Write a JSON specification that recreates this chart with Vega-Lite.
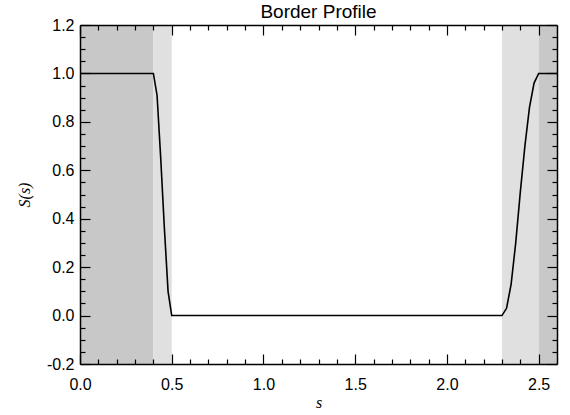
{
  "$schema": "https://vega.github.io/schema/vega-lite/v6.json",
  "width": 477,
  "height": 339,
  "autosize": "none",
  "padding": {"left": 80, "top": 25, "right": 13, "bottom": 51},
  "background": "white",
  "title": {"text": "Border Profile", "font": "Liberation Sans", "fontSize": 19, "fontWeight": "normal", "color": "black", "offset": -5},
  "config": {
    "view": {"stroke": null},
    "axis": {
      "grid": false,
      "labelFlush": false,
      "labelOverlap": false,
      "labelFont": "Liberation Sans",
      "labelFontSize": 16,
      "labelColor": "black",
      "titleFont": "Liberation Serif",
      "titleFontStyle": "italic",
      "titleFontWeight": "normal",
      "titleFontSize": 16,
      "titleColor": "black"
    }
  },
  "datasets": {
    "regions": [
      {"start": 0.0, "end": 0.4, "zone": "outer"},
      {"start": 0.4, "end": 0.5, "zone": "inner"},
      {"start": 2.3, "end": 2.5, "zone": "inner"},
      {"start": 2.5, "end": 2.6, "zone": "outer"}
    ],
    "profile": [
      {"s": 0.0, "S": 1.0},
      {"s": 0.4, "S": 1.0},
      {"s": 0.42, "S": 0.91},
      {"s": 0.44, "S": 0.65},
      {"s": 0.46, "S": 0.36},
      {"s": 0.48, "S": 0.1},
      {"s": 0.5, "S": 0.0},
      {"s": 2.3, "S": 0.0},
      {"s": 2.325, "S": 0.03},
      {"s": 2.35, "S": 0.13},
      {"s": 2.375, "S": 0.3},
      {"s": 2.4, "S": 0.51},
      {"s": 2.425, "S": 0.7},
      {"s": 2.45, "S": 0.86},
      {"s": 2.475, "S": 0.96},
      {"s": 2.5, "S": 1.0},
      {"s": 2.6, "S": 1.0}
    ]
  },
  "layer": [
    {
      "data": {"name": "regions"},
      "mark": {"type": "rect"},
      "encoding": {
        "x": {"field": "start", "type": "quantitative", "scale": {"domain": [0, 2.6], "nice": false, "zero": false},
          "axis": {"orient": "bottom", "zindex": 2, "values": [0, 0.5, 1, 1.5, 2, 2.5], "format": ".1f", "domain": true, "domainColor": "black", "domainWidth": 1.5, "ticks": true, "tickColor": "black", "tickWidth": 1.2, "tickSize": -10, "labelPadding": 22, "title": "s", "titlePadding": 2}},
        "x2": {"field": "end"},
        "color": {"field": "zone", "type": "nominal", "scale": {"domain": ["outer", "inner"], "range": ["#c8c8c8", "#e0e0e0"]}, "legend": null}
      }
    },
    {
      "data": {"name": "profile"},
      "mark": {"type": "line", "color": "black", "strokeWidth": 1.6},
      "encoding": {
        "x": {"field": "s", "type": "quantitative", "scale": {"domain": [0, 2.6], "nice": false, "zero": false},
          "axis": {"orient": "bottom", "zindex": 2, "values": [0.1, 0.2, 0.3, 0.4, 0.6, 0.7, 0.8, 0.9, 1.1, 1.2, 1.3, 1.4, 1.6, 1.7, 1.8, 1.9, 2.1, 2.2, 2.3, 2.4], "ticks": true, "tickColor": "black", "tickWidth": 1.2, "tickSize": -5, "labels": false, "domain": false, "title": null}},
        "y": {"field": "S", "type": "quantitative", "scale": {"domain": [-0.2, 1.2], "nice": false, "zero": false},
          "axis": {"orient": "left", "zindex": 2, "values": [-0.2, 0, 0.2, 0.4, 0.6, 0.8, 1.0, 1.2], "labelExpr": "replace(format(datum.value, '.1f'), '\u2212', '-')", "domain": true, "domainColor": "black", "domainWidth": 1.5, "ticks": true, "tickColor": "black", "tickWidth": 1.2, "tickSize": -10, "labelPadding": 16, "title": "S(s)", "titlePadding": 14}}
      }
    },
    {
      "data": {"name": "profile"},
      "mark": {"type": "line", "color": "black", "opacity": 0},
      "encoding": {
        "x": {"field": "s", "type": "quantitative", "scale": {"domain": [0, 2.6], "nice": false, "zero": false},
          "axis": {"orient": "top", "zindex": 2, "values": [0, 0.5, 1, 1.5, 2, 2.5], "domain": true, "domainColor": "black", "domainWidth": 1.5, "ticks": true, "tickColor": "black", "tickWidth": 1.2, "tickSize": -10, "labels": false, "title": null}},
        "y": {"field": "S", "type": "quantitative", "scale": {"domain": [-0.2, 1.2], "nice": false, "zero": false},
          "axis": {"orient": "left", "zindex": 2, "values": [-0.15, -0.1, -0.05, 0.05, 0.1, 0.15, 0.25, 0.3, 0.35, 0.45, 0.5, 0.55, 0.65, 0.7, 0.75, 0.85, 0.9, 0.95, 1.05, 1.1, 1.15], "ticks": true, "tickColor": "black", "tickWidth": 1.2, "tickSize": -5, "labels": false, "domain": false, "title": null}}
      }
    },
    {
      "data": {"name": "profile"},
      "mark": {"type": "line", "color": "black", "opacity": 0},
      "encoding": {
        "x": {"field": "s", "type": "quantitative", "scale": {"domain": [0, 2.6], "nice": false, "zero": false},
          "axis": {"orient": "top", "zindex": 2, "values": [0.1, 0.2, 0.3, 0.4, 0.6, 0.7, 0.8, 0.9, 1.1, 1.2, 1.3, 1.4, 1.6, 1.7, 1.8, 1.9, 2.1, 2.2, 2.3, 2.4], "ticks": true, "tickColor": "black", "tickWidth": 1.2, "tickSize": -5, "labels": false, "domain": false, "title": null}},
        "y": {"field": "S", "type": "quantitative", "scale": {"domain": [-0.2, 1.2], "nice": false, "zero": false},
          "axis": {"orient": "right", "zindex": 2, "values": [-0.2, 0, 0.2, 0.4, 0.6, 0.8, 1.0, 1.2], "domain": true, "domainColor": "black", "domainWidth": 1.5, "ticks": true, "tickColor": "black", "tickWidth": 1.2, "tickSize": -10, "labels": false, "title": null}}
      }
    },
    {
      "data": {"name": "profile"},
      "mark": {"type": "line", "color": "black", "opacity": 0},
      "encoding": {
        "x": {"field": "s", "type": "quantitative", "scale": {"domain": [0, 2.6], "nice": false, "zero": false}, "axis": null},
        "y": {"field": "S", "type": "quantitative", "scale": {"domain": [-0.2, 1.2], "nice": false, "zero": false},
          "axis": {"orient": "right", "zindex": 2, "values": [-0.15, -0.1, -0.05, 0.05, 0.1, 0.15, 0.25, 0.3, 0.35, 0.45, 0.5, 0.55, 0.65, 0.7, 0.75, 0.85, 0.9, 0.95, 1.05, 1.1, 1.15], "ticks": true, "tickColor": "black", "tickWidth": 1.2, "tickSize": -5, "labels": false, "domain": false, "title": null}}
      }
    }
  ],
  "resolve": {"axis": {"x": "independent", "y": "independent"}}
}
